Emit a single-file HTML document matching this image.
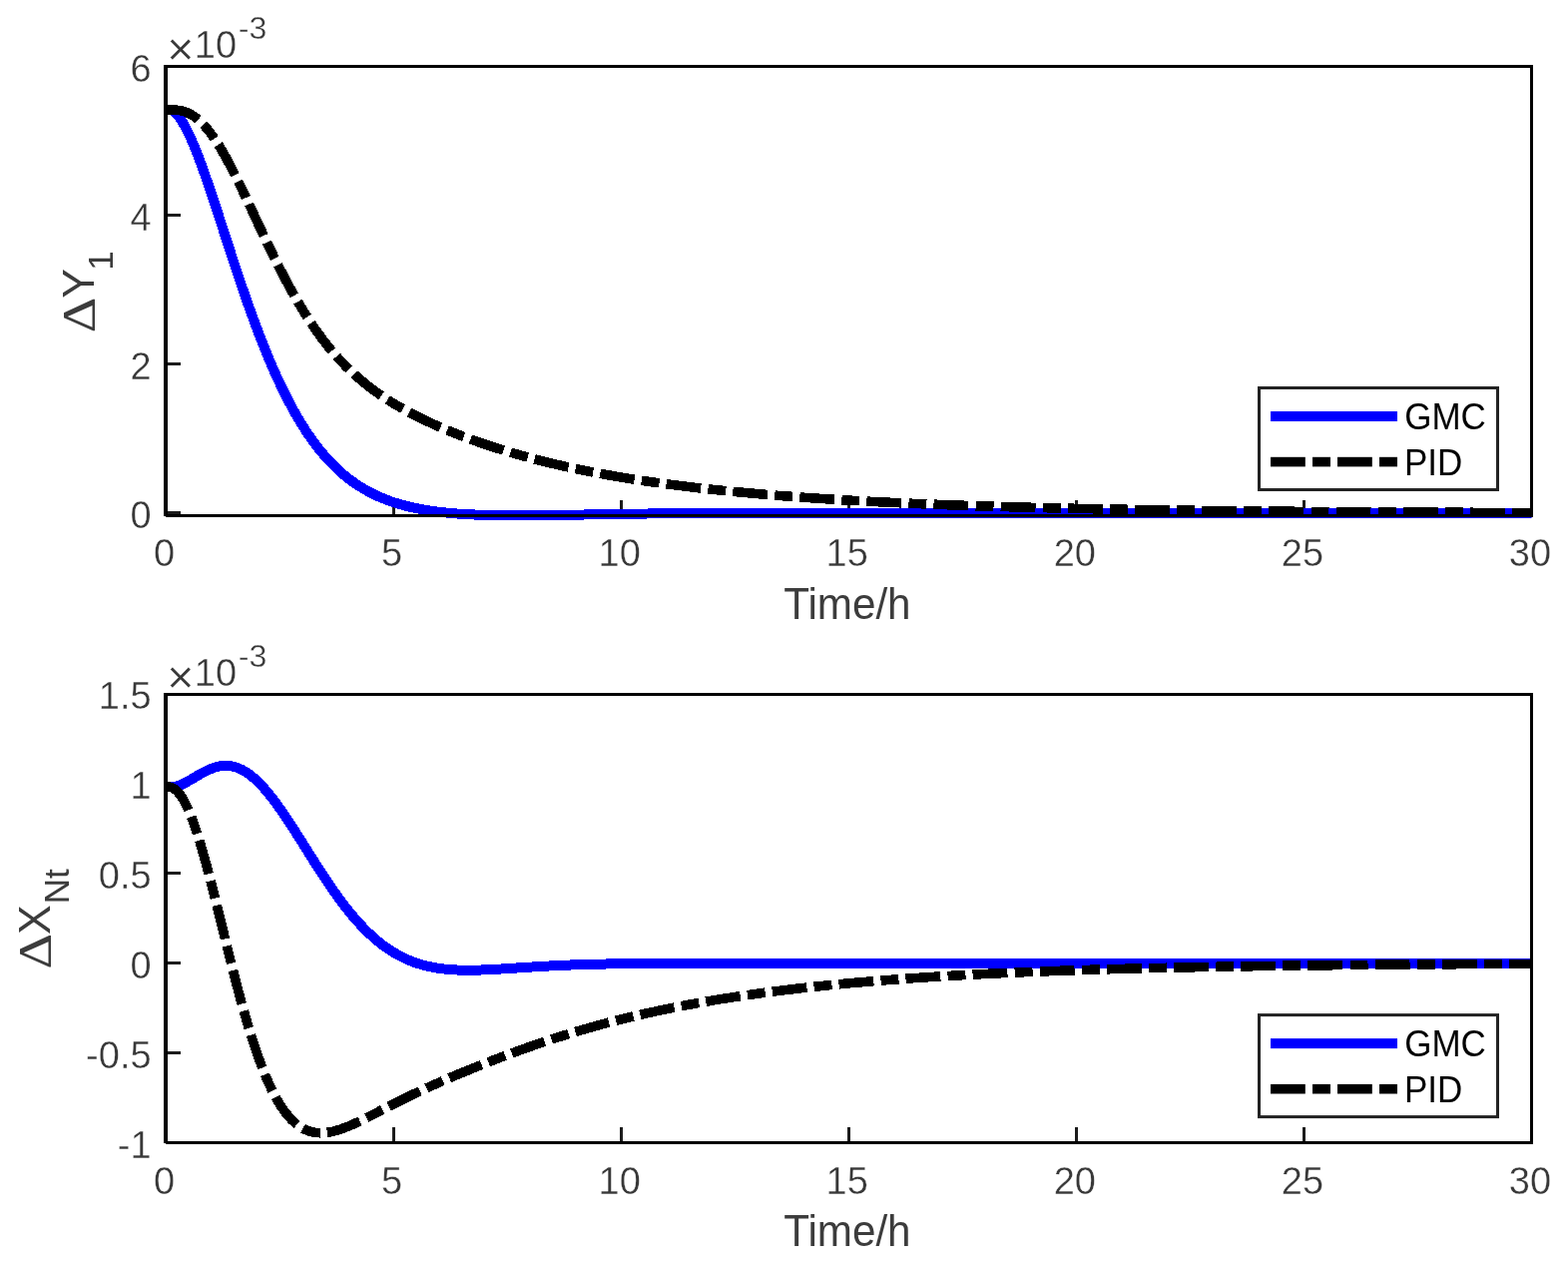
<!DOCTYPE html>
<html lang="en">
<head>
<meta charset="utf-8">
<title>GMC vs PID closed-loop response</title>
<style>
html,body{margin:0;padding:0;background:#fff;}
body{width:1571px;height:1271px;overflow:hidden;}
svg{display:block;}
text{font-family:'Liberation Sans', sans-serif;}
.t text{fill:#383838;stroke:#fff;stroke-width:0.35px;}
.a text,text.a{fill:#3c3c3c;}
text.l{fill:#000;}
</style>
</head>
<body>
<svg width="1571" height="1271" viewBox="0 0 1571 1271">
<rect width="1571" height="1271" fill="#fff"/>
<g id="axes1">
<clipPath id="clip1"><rect x="166" y="66.5" width="1368.5" height="458"/></clipPath>
<g fill="#1c1c1c">
<rect x="393" y="501" width="3" height="15"/>
<rect x="621" y="501" width="3" height="15"/>
<rect x="849" y="501" width="3" height="15"/>
<rect x="1077" y="501" width="3" height="15"/>
<rect x="1305" y="501" width="3" height="15"/>
<rect x="167" y="214" width="14" height="3"/>
<rect x="167" y="363" width="14" height="3"/>
<rect x="167" y="512" width="14" height="3"/>
</g>
<g clip-path="url(#clip1)" fill="none" stroke-width="10" stroke-linejoin="round" shape-rendering="crispEdges">
<path stroke="#0000ff" d="M166 110.07L167.5 109.72L169 109.7L170.5 109.98L172 110.57L173.5 111.43L175 112.57L176.5 113.96L178 115.59L179.5 117.46L181 119.54L182.5 121.83L184 124.31L185.5 126.98L187 129.82L188.5 132.83L190 135.99L191.5 139.29L193 142.73L194.5 146.29L196 149.97L197.5 153.76L199 157.65L200.5 161.63L202 165.7L203.5 169.85L205 174.07L206.5 178.36L208 182.7L209.5 187.09L211 191.54L212.5 196.02L214 200.54L215.5 205.08L217 209.66L218.5 214.25L220 218.86L221.5 223.48L223 228.11L224.5 232.74L226 237.37L227.5 242L229 246.61L230.5 251.22L232 255.81L233.5 260.39L235 264.95L236.5 269.48L238 273.99L239.5 278.46L241 282.91L242.5 287.33L244 291.72L245.5 296.06L247 300.37L248.5 304.64L250 308.87L251.5 313.06L253 317.2L254.5 321.3L256 325.35L257.5 329.36L259 333.31L260.5 337.22L262 341.08L263.5 344.89L265 348.64L266.5 352.35L268 356L269.5 359.6L271 363.14L272.5 366.64L274 370.08L275.5 373.46L277 376.79L278.5 380.07L280 383.29L281.5 386.46L283 389.58L284.5 392.64L286 395.65L287.5 398.6L289 401.51L290.5 404.35L292 407.15L293.5 409.89L295 412.58L296.5 415.22L298 417.81L299.5 420.35L301 422.83L302.5 425.27L304 427.66L305.5 430L307 432.29L308.5 434.53L310 436.72L311.5 438.87L313 440.97L314.5 443.02L316 445.04L317.5 447L319 448.92L320.5 450.8L322 452.64L323.5 454.43L325 456.19L326.5 457.9L328 459.57L329.5 461.2L331 462.8L332.5 464.35L334 465.87L335.5 467.36L337 468.8L338.5 470.21L340 471.59L341.5 472.93L343 474.24L344.5 475.51L346 476.76L347.5 477.97L349 479.15L350.5 480.3L352 481.42L353.5 482.51L355 483.57L356.5 484.6L358 485.61L359.5 486.59L361 487.55L362.5 488.47L364 489.38L365.5 490.26L367 491.11L368.5 491.94L370 492.75L371.5 493.54L373 494.3L374.5 495.04L376 495.76L377.5 496.47L379 497.15L380.5 497.81L382 498.45L383.5 499.08L385 499.68L386.5 500.27L388 500.84L389.5 501.4L391 501.94L392.5 502.46L394 502.97L395.5 503.46L397 503.94L398.5 504.4L400 504.85L401.5 505.28L403 505.71L404.5 506.11L406 506.51L407.5 506.89L409 507.27L410.5 507.63L412 507.97L413.5 508.31L415 508.64L416.5 508.96L418 509.26L419.5 509.56L421 509.85L422.5 510.12L424 510.39L425.5 510.65L427 510.9L428.5 511.14L430 511.38L431.5 511.6L433 511.82L434.5 512.03L436 512.23L437.5 512.43L439 512.62L440.5 512.8L442 512.98L443.5 513.15L445 513.31L446.5 513.47L448 513.62L449.5 513.76L451 513.9L452.5 514.04L454 514.17L455.5 514.29L457 514.41L458.5 514.52L460 514.63L461.5 514.74L463 514.84L464.5 514.93L466 515.02L467.5 515.11L469 515.2L470.5 515.28L472 515.35L473.5 515.42L475 515.49L476.5 515.56L478 515.62L479.5 515.68L481 515.74L482.5 515.79L484 515.84L485.5 515.89L487 515.93L488.5 515.97L490 516.01L491.5 516.04L493 516.08L494.5 516.11L496 516.14L497.5 516.16L499 516.19L500.5 516.21L502 516.23L503.5 516.25L505 516.26L506.5 516.28L508 516.29L509.5 516.3L511 516.31L512.5 516.32L514 516.32L515.5 516.33L517 516.33L518.5 516.33L520 516.33L521.5 516.33L523 516.32L524.5 516.32L526 516.31L527.5 516.31L529 516.3L530.5 516.29L532 516.28L533.5 516.27L535 516.25L536.5 516.24L538 516.23L539.5 516.21L541 516.2L542.5 516.18L544 516.16L545.5 516.14L547 516.13L548.5 516.11L550 516.09L551.5 516.07L553 516.04L554.5 516.02L556 516L557.5 515.98L559 515.95L560.5 515.93L562 515.91L563.5 515.88L565 515.86L566.5 515.83L568 515.81L569.5 515.78L571 515.76L572.5 515.73L574 515.7L575.5 515.68L577 515.65L578.5 515.62L580 515.6L581.5 515.57L583 515.54L584.5 515.52L586 515.49L587.5 515.46L589 515.44L590.5 515.41L592 515.38L593.5 515.35L595 515.33L596.5 515.3L598 515.27L599.5 515.25L601 515.22L602.5 515.2L604 515.17L605.5 515.14L607 515.12L608.5 515.09L610 515.07L611.5 515.04L613 515.02L614.5 514.99L616 514.97L617.5 514.94L619 514.92L620.5 514.89L622 514.87L623.5 514.85L625 514.82L626.5 514.8L628 514.78L629.5 514.76L631 514.73L632.5 514.71L634 514.69L635.5 514.67L637 514.65L638.5 514.63L640 514.61L641.5 514.59L643 514.57L644.5 514.55L646 514.53L647.5 514.52L649 514.5L650.5 514.48L652 514.46L653.5 514.45L655 514.43L656.5 514.41L658 514.4L659.5 514.38L661 514.37L662.5 514.35L664 514.34L665.5 514.32L667 514.31L668.5 514.3L670 514.28L671.5 514.27L673 514.26L674.5 514.25L676 514.23L677.5 514.22L679 514.21L680.5 514.2L682 514.19L683.5 514.18L685 514.17L686.5 514.16L688 514.15L689.5 514.14L691 514.13L692.5 514.13L694 514.12L695.5 514.11L697 514.1L698.5 514.09L700 514.09L701.5 514.08L703 514.07L704.5 514.07L706 514.06L707.5 514.06L709 514.05L710.5 514.05L712 514.04L713.5 514.04L715 514.03L716.5 514.03L718 514.02L719.5 514.02L721 514.02L722.5 514.01L724 514.01L725.5 514.01L727 514L728.5 514L730 514L731.5 514L733 513.99L734.5 513.99L736 513.99L737.5 513.99L739 513.99L740.5 513.98L742 513.98L743.5 513.98L745 513.98L746.5 513.98L748 513.98L749.5 513.98L751 513.98L752.5 513.98L754 513.98L755.5 513.98L757 513.98L758.5 513.98L760 513.98L761.5 513.98L763 513.98L764.5 513.98L766 513.98L767.5 513.98L769 513.98L770.5 513.98L772 513.98L773.5 513.98L775 513.98L776.5 513.98L778 513.98L779.5 513.98L781 513.98L782.5 513.98L784 513.98L785.5 513.98L787 513.99L788.5 513.99L790 513.99L791.5 513.99L793 513.99L794.5 513.99L796 513.99L797.5 513.99L799 513.99L800.5 513.99L802 513.99L803.5 514L805 514L806.5 514L808 514L809.5 514L811 514L812.5 514L814 514L815.5 514L817 514L818.5 514.01L820 514.01L821.5 514.01L823 514.01L824.5 514.01L826 514.01L827.5 514.01L829 514.01L830.5 514.01L832 514.01L833.5 514.01L835 514.01L836.5 514.02L838 514.02L839.5 514.02L841 514.02L842.5 514.02L844 514.02L845.5 514.02L847 514.02L848.5 514.02L850 514.02L851.5 514.02L853 514.02L854.5 514.02L856 514.02L857.5 514.02L859 514.02L860.5 514.02L862 514.02L863.5 514.02L865 514.02L866.5 514.02L868 514.03L869.5 514.03L871 514.03L872.5 514.03L874 514.03L875.5 514.03L877 514.03L878.5 514.03L880 514.03L881.5 514.03L883 514.03L884.5 514.03L886 514.03L887.5 514.03L889 514.03L890.5 514.03L892 514.03L893.5 514.03L895 514.03L896.5 514.03L898 514.03L899.5 514.03L901 514.03L902.5 514.03L904 514.03L905.5 514.03L907 514.03L908.5 514.03L910 514.03L911.5 514.03L913 514.03L914.5 514.03L916 514.03L917.5 514.03L919 514.02L920.5 514.02L922 514.02L923.5 514.02L925 514.02L926.5 514.02L928 514.02L929.5 514.02L931 514.02L932.5 514.02L934 514.02L935.5 514.02L937 514.02L938.5 514.02L940 514.02L941.5 514.02L943 514.02L944.5 514.02L946 514.02L947.5 514.02L949 514.02L950.5 514.02L952 514.02L953.5 514.02L955 514.02L956.5 514.02L958 514.02L959.5 514.02L961 514.02L962.5 514.02L964 514.02L965.5 514.02L967 514.02L968.5 514.02L970 514.02L971.5 514.02L973 514.02L974.5 514.02L976 514.02L977.5 514.02L979 514.02L980.5 514.02L982 514.02L983.5 514.02L985 514.02L986.5 514.02L988 514.02L989.5 514.02L991 514.02L992.5 514.02L994 514.02L995.5 514.02L997 514.02L998.5 514.02L1000 514.02L1001.5 514.02L1003 514.02L1004.5 514.02L1006 514.02L1007.5 514.02L1009 514.02L1010.5 514.02L1012 514.02L1013.5 514.02L1015 514.02L1016.5 514.02L1018 514.02L1019.5 514.02L1021 514.02L1022.5 514.02L1024 514.02L1025.5 514.02L1027 514.02L1028.5 514.02L1030 514.02L1031.5 514.02L1033 514.02L1034.5 514.02L1036 514.02L1037.5 514.02L1039 514.02L1040.5 514.02L1042 514.02L1043.5 514.02L1045 514.02L1046.5 514.02L1048 514.02L1049.5 514.02L1051 514.02L1052.5 514.02L1054 514.02L1055.5 514.02L1057 514.02L1058.5 514.02L1060 514.02L1061.5 514.02L1063 514.02L1064.5 514.02L1066 514.02L1067.5 514.02L1069 514.02L1070.5 514.02L1072 514.02L1073.5 514.02L1075 514.02L1076.5 514.02L1078 514.02L1079.5 514.02L1081 514.02L1082.5 514.02L1084 514.02L1085.5 514.02L1087 514.02L1088.5 514.02L1090 514.02L1091.5 514.02L1093 514.02L1094.5 514.02L1096 514.02L1097.5 514.02L1099 514.02L1100.5 514.02L1102 514.02L1103.5 514.02L1105 514.02L1106.5 514.02L1108 514.02L1109.5 514.02L1111 514.02L1112.5 514.02L1114 514.02L1115.5 514.02L1117 514.02L1118.5 514.02L1120 514.02L1121.5 514.02L1123 514.02L1124.5 514.02L1126 514.02L1127.5 514.02L1129 514.02L1130.5 514.02L1132 514.02L1133.5 514.02L1135 514.02L1136.5 514.02L1138 514.02L1139.5 514.02L1141 514.02L1142.5 514.02L1144 514.02L1145.5 514.02L1147 514.02L1148.5 514.02L1150 514.02L1151.5 514.02L1153 514.02L1154.5 514.02L1156 514.02L1157.5 514.02L1159 514.02L1160.5 514.02L1162 514.02L1163.5 514.02L1165 514.02L1166.5 514.02L1168 514.02L1169.5 514.02L1171 514.02L1172.5 514.02L1174 514.02L1175.5 514.02L1177 514.02L1178.5 514.02L1180 514.02L1181.5 514.02L1183 514.02L1184.5 514.02L1186 514.02L1187.5 514.02L1189 514.02L1190.5 514.02L1192 514.02L1193.5 514.02L1195 514.02L1196.5 514.02L1198 514.02L1199.5 514.02L1201 514.02L1202.5 514.02L1204 514.02L1205.5 514.02L1207 514.02L1208.5 514.02L1210 514.02L1211.5 514.02L1213 514.02L1214.5 514.02L1216 514.02L1217.5 514.02L1219 514.02L1220.5 514.02L1222 514.02L1223.5 514.02L1225 514.02L1226.5 514.02L1228 514.02L1229.5 514.02L1231 514.02L1232.5 514.02L1234 514.02L1235.5 514.02L1237 514.02L1238.5 514.02L1240 514.02L1241.5 514.02L1243 514.02L1244.5 514.02L1246 514.02L1247.5 514.02L1249 514.02L1250.5 514.02L1252 514.02L1253.5 514.02L1255 514.02L1256.5 514.02L1258 514.02L1259.5 514.02L1261 514.02L1262.5 514.02L1264 514.02L1265.5 514.02L1267 514.02L1268.5 514.02L1270 514.02L1271.5 514.02L1273 514.02L1274.5 514.02L1276 514.02L1277.5 514.02L1279 514.02L1280.5 514.02L1282 514.02L1283.5 514.02L1285 514.02L1286.5 514.02L1288 514.02L1289.5 514.02L1291 514.02L1292.5 514.02L1294 514.02L1295.5 514.02L1297 514.02L1298.5 514.02L1300 514.02L1301.5 514.02L1303 514.02L1304.5 514.02L1306 514.02L1307.5 514.02L1309 514.02L1310.5 514.02L1312 514.02L1313.5 514.02L1315 514.02L1316.5 514.02L1318 514.02L1319.5 514.02L1321 514.02L1322.5 514.02L1324 514.02L1325.5 514.02L1327 514.02L1328.5 514.02L1330 514.02L1331.5 514.02L1333 514.02L1334.5 514.02L1336 514.02L1337.5 514.02L1339 514.02L1340.5 514.02L1342 514.02L1343.5 514.02L1345 514.02L1346.5 514.02L1348 514.02L1349.5 514.02L1351 514.02L1352.5 514.02L1354 514.02L1355.5 514.02L1357 514.02L1358.5 514.02L1360 514.02L1361.5 514.02L1363 514.02L1364.5 514.02L1366 514.02L1367.5 514.02L1369 514.02L1370.5 514.02L1372 514.02L1373.5 514.02L1375 514.02L1376.5 514.02L1378 514.02L1379.5 514.02L1381 514.02L1382.5 514.02L1384 514.02L1385.5 514.02L1387 514.02L1388.5 514.02L1390 514.02L1391.5 514.02L1393 514.02L1394.5 514.02L1396 514.02L1397.5 514.02L1399 514.02L1400.5 514.02L1402 514.02L1403.5 514.02L1405 514.02L1406.5 514.02L1408 514.02L1409.5 514.02L1411 514.02L1412.5 514.02L1414 514.02L1415.5 514.02L1417 514.02L1418.5 514.02L1420 514.02L1421.5 514.02L1423 514.02L1424.5 514.02L1426 514.02L1427.5 514.02L1429 514.02L1430.5 514.02L1432 514.02L1433.5 514.02L1435 514.02L1436.5 514.02L1438 514.02L1439.5 514.02L1441 514.02L1442.5 514.02L1444 514.02L1445.5 514.02L1447 514.02L1448.5 514.02L1450 514.02L1451.5 514.02L1453 514.02L1454.5 514.02L1456 514.02L1457.5 514.02L1459 514.02L1460.5 514.02L1462 514.02L1463.5 514.02L1465 514.02L1466.5 514.02L1468 514.02L1469.5 514.02L1471 514.02L1472.5 514.02L1474 514.02L1475.5 514.02L1477 514.02L1478.5 514.02L1480 514.02L1481.5 514.02L1483 514.02L1484.5 514.02L1486 514.02L1487.5 514.02L1489 514.02L1490.5 514.02L1492 514.02L1493.5 514.02L1495 514.02L1496.5 514.02L1498 514.02L1499.5 514.02L1501 514.02L1502.5 514.02L1504 514.02L1505.5 514.02L1507 514.02L1508.5 514.02L1510 514.02L1511.5 514.02L1513 514.02L1514.5 514.02L1516 514.02L1517.5 514.02L1519 514.02L1520.5 514.02L1522 514.02L1523.5 514.02L1525 514.02L1526.5 514.02L1528 514.02L1529.5 514.02L1531 514.02L1532.5 514.02L1534 514.02L1534.5 514.02"/>
<path stroke="#000" stroke-width="9.6" stroke-dasharray="34.9 7.25 17.95 7.1" d="M166 109.86L167.5 109.89L169 109.91L170.5 109.93L172 109.96L173.5 110.01L175 110.09L176.5 110.21L178 110.37L179.5 110.58L181 110.85L182.5 111.19L184 111.59L185.5 112.07L187 112.63L188.5 113.26L190 113.98L191.5 114.79L193 115.69L194.5 116.67L196 117.75L197.5 118.91L199 120.17L200.5 121.52L202 122.96L203.5 124.49L205 126.12L206.5 127.83L208 129.62L209.5 131.51L211 133.47L212.5 135.52L214 137.65L215.5 139.85L217 142.14L218.5 144.49L220 146.91L221.5 149.4L223 151.95L224.5 154.57L226 157.24L227.5 159.97L229 162.75L230.5 165.58L232 168.46L233.5 171.38L235 174.34L236.5 177.33L238 180.36L239.5 183.42L241 186.51L242.5 189.63L244 192.76L245.5 195.92L247 199.09L248.5 202.28L250 205.48L251.5 208.68L253 211.89L254.5 215.11L256 218.33L257.5 221.54L259 224.76L260.5 227.96L262 231.16L263.5 234.35L265 237.53L266.5 240.69L268 243.84L269.5 246.97L271 250.09L272.5 253.18L274 256.25L275.5 259.3L277 262.33L278.5 265.32L280 268.3L281.5 271.24L283 274.16L284.5 277.05L286 279.9L287.5 282.73L289 285.52L290.5 288.28L292 291.01L293.5 293.7L295 296.36L296.5 298.99L298 301.58L299.5 304.13L301 306.65L302.5 309.14L304 311.59L305.5 314L307 316.37L308.5 318.72L310 321.02L311.5 323.29L313 325.52L314.5 327.72L316 329.88L317.5 332.01L319 334.1L320.5 336.16L322 338.19L323.5 340.18L325 342.13L326.5 344.05L328 345.94L329.5 347.8L331 349.63L332.5 351.42L334 353.18L335.5 354.91L337 356.62L338.5 358.29L340 359.93L341.5 361.54L343 363.13L344.5 364.69L346 366.22L347.5 367.72L349 369.2L350.5 370.65L352 372.08L353.5 373.48L355 374.86L356.5 376.21L358 377.54L359.5 378.85L361 380.14L362.5 381.4L364 382.65L365.5 383.87L367 385.07L368.5 386.26L370 387.42L371.5 388.57L373 389.7L374.5 390.81L376 391.9L377.5 392.98L379 394.04L380.5 395.08L382 396.11L383.5 397.13L385 398.13L386.5 399.11L388 400.08L389.5 401.04L391 401.98L392.5 402.91L394 403.83L395.5 404.74L397 405.63L398.5 406.52L400 407.39L401.5 408.25L403 409.1L404.5 409.94L406 410.77L407.5 411.59L409 412.4L410.5 413.2L412 413.99L413.5 414.78L415 415.55L416.5 416.32L418 417.08L419.5 417.83L421 418.57L422.5 419.3L424 420.03L425.5 420.75L427 421.46L428.5 422.17L430 422.87L431.5 423.56L433 424.24L434.5 424.92L436 425.59L437.5 426.26L439 426.92L440.5 427.58L442 428.23L443.5 428.87L445 429.51L446.5 430.14L448 430.77L449.5 431.39L451 432L452.5 432.62L454 433.22L455.5 433.82L457 434.42L458.5 435.01L460 435.6L461.5 436.18L463 436.75L464.5 437.33L466 437.89L467.5 438.46L469 439.02L470.5 439.57L472 440.12L473.5 440.67L475 441.21L476.5 441.74L478 442.28L479.5 442.81L481 443.33L482.5 443.85L484 444.37L485.5 444.88L487 445.39L488.5 445.89L490 446.39L491.5 446.89L493 447.38L494.5 447.87L496 448.36L497.5 448.84L499 449.32L500.5 449.79L502 450.26L503.5 450.73L505 451.19L506.5 451.65L508 452.1L509.5 452.56L511 453L512.5 453.45L514 453.89L515.5 454.33L517 454.76L518.5 455.19L520 455.62L521.5 456.05L523 456.47L524.5 456.88L526 457.3L527.5 457.71L529 458.12L530.5 458.52L532 458.92L533.5 459.32L535 459.71L536.5 460.11L538 460.5L539.5 460.88L541 461.26L542.5 461.64L544 462.02L545.5 462.39L547 462.76L548.5 463.13L550 463.49L551.5 463.86L553 464.21L554.5 464.57L556 464.92L557.5 465.27L559 465.62L560.5 465.97L562 466.31L563.5 466.65L565 466.98L566.5 467.32L568 467.65L569.5 467.98L571 468.3L572.5 468.62L574 468.95L575.5 469.26L577 469.58L578.5 469.89L580 470.2L581.5 470.51L583 470.82L584.5 471.12L586 471.42L587.5 471.72L589 472.02L590.5 472.31L592 472.6L593.5 472.89L595 473.18L596.5 473.46L598 473.75L599.5 474.03L601 474.3L602.5 474.58L604 474.85L605.5 475.13L607 475.4L608.5 475.66L610 475.93L611.5 476.19L613 476.45L614.5 476.71L616 476.97L617.5 477.23L619 477.48L620.5 477.73L622 477.98L623.5 478.23L625 478.48L626.5 478.72L628 478.96L629.5 479.21L631 479.44L632.5 479.68L634 479.92L635.5 480.15L637 480.38L638.5 480.61L640 480.84L641.5 481.07L643 481.29L644.5 481.52L646 481.74L647.5 481.96L649 482.18L650.5 482.39L652 482.61L653.5 482.82L655 483.04L656.5 483.25L658 483.46L659.5 483.66L661 483.87L662.5 484.07L664 484.28L665.5 484.48L667 484.68L668.5 484.88L670 485.08L671.5 485.27L673 485.47L674.5 485.66L676 485.85L677.5 486.04L679 486.23L680.5 486.42L682 486.61L683.5 486.79L685 486.98L686.5 487.16L688 487.34L689.5 487.52L691 487.7L692.5 487.88L694 488.05L695.5 488.23L697 488.4L698.5 488.57L700 488.75L701.5 488.92L703 489.08L704.5 489.25L706 489.42L707.5 489.58L709 489.75L710.5 489.91L712 490.07L713.5 490.24L715 490.4L716.5 490.55L718 490.71L719.5 490.87L721 491.02L722.5 491.18L724 491.33L725.5 491.48L727 491.63L728.5 491.79L730 491.93L731.5 492.08L733 492.23L734.5 492.38L736 492.52L737.5 492.66L739 492.81L740.5 492.95L742 493.09L743.5 493.23L745 493.37L746.5 493.51L748 493.65L749.5 493.78L751 493.92L752.5 494.05L754 494.19L755.5 494.32L757 494.45L758.5 494.58L760 494.71L761.5 494.84L763 494.97L764.5 495.1L766 495.22L767.5 495.35L769 495.47L770.5 495.6L772 495.72L773.5 495.84L775 495.96L776.5 496.09L778 496.2L779.5 496.32L781 496.44L782.5 496.56L784 496.68L785.5 496.79L787 496.91L788.5 497.02L790 497.13L791.5 497.25L793 497.36L794.5 497.47L796 497.58L797.5 497.69L799 497.8L800.5 497.91L802 498.02L803.5 498.12L805 498.23L806.5 498.33L808 498.44L809.5 498.54L811 498.64L812.5 498.75L814 498.85L815.5 498.95L817 499.05L818.5 499.15L820 499.25L821.5 499.35L823 499.45L824.5 499.54L826 499.64L827.5 499.74L829 499.83L830.5 499.93L832 500.02L833.5 500.11L835 500.2L836.5 500.3L838 500.39L839.5 500.48L841 500.57L842.5 500.66L844 500.75L845.5 500.84L847 500.92L848.5 501.01L850 501.1L851.5 501.18L853 501.27L854.5 501.35L856 501.44L857.5 501.52L859 501.61L860.5 501.69L862 501.77L863.5 501.85L865 501.93L866.5 502.01L868 502.09L869.5 502.17L871 502.25L872.5 502.33L874 502.41L875.5 502.49L877 502.56L878.5 502.64L880 502.71L881.5 502.79L883 502.86L884.5 502.94L886 503.01L887.5 503.09L889 503.16L890.5 503.23L892 503.3L893.5 503.37L895 503.44L896.5 503.52L898 503.58L899.5 503.65L901 503.72L902.5 503.79L904 503.86L905.5 503.93L907 503.99L908.5 504.06L910 504.13L911.5 504.19L913 504.26L914.5 504.32L916 504.39L917.5 504.45L919 504.52L920.5 504.58L922 504.64L923.5 504.71L925 504.77L926.5 504.83L928 504.89L929.5 504.95L931 505.01L932.5 505.07L934 505.13L935.5 505.19L937 505.25L938.5 505.31L940 505.37L941.5 505.42L943 505.48L944.5 505.54L946 505.59L947.5 505.65L949 505.71L950.5 505.76L952 505.82L953.5 505.87L955 505.93L956.5 505.98L958 506.03L959.5 506.09L961 506.14L962.5 506.19L964 506.24L965.5 506.3L967 506.35L968.5 506.4L970 506.45L971.5 506.5L973 506.55L974.5 506.6L976 506.65L977.5 506.7L979 506.75L980.5 506.8L982 506.84L983.5 506.89L985 506.94L986.5 506.99L988 507.03L989.5 507.08L991 507.13L992.5 507.17L994 507.22L995.5 507.26L997 507.31L998.5 507.35L1000 507.4L1001.5 507.44L1003 507.49L1004.5 507.53L1006 507.57L1007.5 507.62L1009 507.66L1010.5 507.7L1012 507.74L1013.5 507.79L1015 507.83L1016.5 507.87L1018 507.91L1019.5 507.95L1021 507.99L1022.5 508.03L1024 508.07L1025.5 508.11L1027 508.15L1028.5 508.19L1030 508.23L1031.5 508.27L1033 508.31L1034.5 508.35L1036 508.38L1037.5 508.42L1039 508.46L1040.5 508.5L1042 508.53L1043.5 508.57L1045 508.61L1046.5 508.64L1048 508.68L1049.5 508.71L1051 508.75L1052.5 508.79L1054 508.82L1055.5 508.86L1057 508.89L1058.5 508.92L1060 508.96L1061.5 508.99L1063 509.03L1064.5 509.06L1066 509.09L1067.5 509.13L1069 509.16L1070.5 509.19L1072 509.22L1073.5 509.26L1075 509.29L1076.5 509.32L1078 509.35L1079.5 509.38L1081 509.41L1082.5 509.45L1084 509.48L1085.5 509.51L1087 509.54L1088.5 509.57L1090 509.6L1091.5 509.63L1093 509.66L1094.5 509.69L1096 509.72L1097.5 509.74L1099 509.77L1100.5 509.8L1102 509.83L1103.5 509.86L1105 509.89L1106.5 509.91L1108 509.94L1109.5 509.97L1111 510L1112.5 510.02L1114 510.05L1115.5 510.08L1117 510.1L1118.5 510.13L1120 510.16L1121.5 510.18L1123 510.21L1124.5 510.23L1126 510.26L1127.5 510.29L1129 510.31L1130.5 510.34L1132 510.36L1133.5 510.39L1135 510.41L1136.5 510.43L1138 510.46L1139.5 510.48L1141 510.51L1142.5 510.53L1144 510.55L1145.5 510.58L1147 510.6L1148.5 510.62L1150 510.65L1151.5 510.67L1153 510.69L1154.5 510.72L1156 510.74L1157.5 510.76L1159 510.78L1160.5 510.8L1162 510.83L1163.5 510.85L1165 510.87L1166.5 510.89L1168 510.91L1169.5 510.93L1171 510.95L1172.5 510.98L1174 511L1175.5 511.02L1177 511.04L1178.5 511.06L1180 511.08L1181.5 511.1L1183 511.12L1184.5 511.14L1186 511.16L1187.5 511.18L1189 511.2L1190.5 511.22L1192 511.23L1193.5 511.25L1195 511.27L1196.5 511.29L1198 511.31L1199.5 511.33L1201 511.35L1202.5 511.36L1204 511.38L1205.5 511.4L1207 511.42L1208.5 511.44L1210 511.45L1211.5 511.47L1213 511.49L1214.5 511.51L1216 511.52L1217.5 511.54L1219 511.56L1220.5 511.57L1222 511.59L1223.5 511.61L1225 511.62L1226.5 511.64L1228 511.66L1229.5 511.67L1231 511.69L1232.5 511.71L1234 511.72L1235.5 511.74L1237 511.75L1238.5 511.77L1240 511.78L1241.5 511.8L1243 511.82L1244.5 511.83L1246 511.85L1247.5 511.86L1249 511.88L1250.5 511.89L1252 511.91L1253.5 511.92L1255 511.93L1256.5 511.95L1258 511.96L1259.5 511.98L1261 511.99L1262.5 512.01L1264 512.02L1265.5 512.03L1267 512.05L1268.5 512.06L1270 512.07L1271.5 512.09L1273 512.1L1274.5 512.11L1276 512.13L1277.5 512.14L1279 512.15L1280.5 512.17L1282 512.18L1283.5 512.19L1285 512.21L1286.5 512.22L1288 512.23L1289.5 512.24L1291 512.26L1292.5 512.27L1294 512.28L1295.5 512.29L1297 512.3L1298.5 512.32L1300 512.33L1301.5 512.34L1303 512.35L1304.5 512.36L1306 512.37L1307.5 512.39L1309 512.4L1310.5 512.41L1312 512.42L1313.5 512.43L1315 512.44L1316.5 512.45L1318 512.47L1319.5 512.48L1321 512.49L1322.5 512.5L1324 512.51L1325.5 512.52L1327 512.53L1328.5 512.54L1330 512.55L1331.5 512.56L1333 512.57L1334.5 512.58L1336 512.59L1337.5 512.6L1339 512.61L1340.5 512.62L1342 512.63L1343.5 512.64L1345 512.65L1346.5 512.66L1348 512.67L1349.5 512.68L1351 512.69L1352.5 512.7L1354 512.71L1355.5 512.72L1357 512.73L1358.5 512.74L1360 512.75L1361.5 512.75L1363 512.76L1364.5 512.77L1366 512.78L1367.5 512.79L1369 512.8L1370.5 512.81L1372 512.82L1373.5 512.83L1375 512.83L1376.5 512.84L1378 512.85L1379.5 512.86L1381 512.87L1382.5 512.88L1384 512.88L1385.5 512.89L1387 512.9L1388.5 512.91L1390 512.92L1391.5 512.92L1393 512.93L1394.5 512.94L1396 512.95L1397.5 512.96L1399 512.96L1400.5 512.97L1402 512.98L1403.5 512.99L1405 512.99L1406.5 513L1408 513.01L1409.5 513.02L1411 513.02L1412.5 513.03L1414 513.04L1415.5 513.05L1417 513.05L1418.5 513.06L1420 513.07L1421.5 513.07L1423 513.08L1424.5 513.09L1426 513.09L1427.5 513.1L1429 513.11L1430.5 513.11L1432 513.12L1433.5 513.13L1435 513.13L1436.5 513.14L1438 513.15L1439.5 513.15L1441 513.16L1442.5 513.17L1444 513.17L1445.5 513.18L1447 513.19L1448.5 513.19L1450 513.2L1451.5 513.2L1453 513.21L1454.5 513.22L1456 513.22L1457.5 513.23L1459 513.23L1460.5 513.24L1462 513.25L1463.5 513.25L1465 513.26L1466.5 513.26L1468 513.27L1469.5 513.27L1471 513.28L1472.5 513.29L1474 513.29L1475.5 513.3L1477 513.3L1478.5 513.31L1480 513.31L1481.5 513.32L1483 513.32L1484.5 513.33L1486 513.33L1487.5 513.34L1489 513.35L1490.5 513.35L1492 513.36L1493.5 513.36L1495 513.37L1496.5 513.37L1498 513.38L1499.5 513.38L1501 513.39L1502.5 513.39L1504 513.4L1505.5 513.4L1507 513.4L1508.5 513.41L1510 513.41L1511.5 513.42L1513 513.42L1514.5 513.43L1516 513.43L1517.5 513.44L1519 513.44L1520.5 513.45L1522 513.45L1523.5 513.46L1525 513.46L1526.5 513.46L1528 513.47L1529.5 513.47L1531 513.48L1532.5 513.48L1534 513.49L1534.5 513.49"/>
</g>
<g fill="#000">
<rect x="164" y="65" width="4" height="452"/>
<rect x="1533" y="65" width="3" height="453"/>
<rect x="164" y="65" width="1372" height="3"/>
<rect x="166" y="515" width="1370" height="3"/>
</g>
<g class="t" font-size="38">
<g text-anchor="middle">
<text x="164.5" y="566.9">0</text>
<text x="392.58" y="566.9">5</text>
<text x="620.67" y="566.9">10</text>
<text x="848.75" y="566.9">15</text>
<text x="1076.83" y="566.9">20</text>
<text x="1304.92" y="566.9">25</text>
<text x="1533" y="566.9">30</text>
</g>
<g text-anchor="end">
<text x="151.6" y="81.8">6</text>
<text x="151.6" y="230.8">4</text>
<text x="151.6" y="379.8">2</text>
<text x="151.6" y="528.8">0</text>
</g>
<text x="167.2" y="64.6" font-size="46.5">×</text>
<text x="194.8" y="58.2">10</text>
<text x="238.8" y="39.4" font-size="32.2">-3</text>
</g>
<text class="a" x="848.9" y="620" font-size="43.6" text-anchor="middle" textLength="127.4" lengthAdjust="spacingAndGlyphs">Time/h</text>
<g class="a" transform="translate(94.6 331.8) rotate(-90)">
<text transform="scale(1.17 1)" x="-1.2" y="0" font-size="47.2" style="font-family:'Liberation Serif', 'DejaVu Serif', serif">Δ</text>
<text x="33.0" y="-0.9" font-size="44.4">Y</text>
<text x="61" y="18.3" font-size="35">1</text>
</g>
<rect x="1261.5" y="388.5" width="239" height="102" fill="#fff" stroke="#222" stroke-width="3"/>
<rect x="1273" y="412" width="127" height="10" fill="#0000ff"/>
<rect x="1273" y="457.8" width="34.8" height="9.6" fill="#000"/>
<rect x="1315" y="457.8" width="18" height="9.6" fill="#000"/>
<rect x="1340" y="457.8" width="34.8" height="9.6" fill="#000"/>
<rect x="1382" y="457.8" width="18" height="9.6" fill="#000"/>
<text class="l" x="1407.2" y="430" font-size="36.2" textLength="81.6" lengthAdjust="spacingAndGlyphs">GMC</text>
<text class="l" x="1407.0" y="476" font-size="36.2" textLength="58.3" lengthAdjust="spacingAndGlyphs">PID</text>
</g>
<g id="axes2">
<clipPath id="clip2"><rect x="166" y="695.5" width="1368.5" height="457"/></clipPath>
<g fill="#1c1c1c">
<rect x="393" y="1129" width="3" height="15"/>
<rect x="621" y="1129" width="3" height="15"/>
<rect x="849" y="1129" width="3" height="15"/>
<rect x="1077" y="1129" width="3" height="15"/>
<rect x="1305" y="1129" width="3" height="15"/>
<rect x="167" y="783" width="14" height="3"/>
<rect x="167" y="873" width="14" height="3"/>
<rect x="167" y="963" width="14" height="3"/>
<rect x="167" y="1053" width="14" height="3"/>
</g>
<g clip-path="url(#clip2)" fill="none" stroke-width="10" stroke-linejoin="round" shape-rendering="crispEdges">
<path stroke="#0000ff" d="M166 787.78L167.5 788.15L169 788.38L170.5 788.47L172 788.44L173.5 788.3L175 788.04L176.5 787.69L178 787.25L179.5 786.74L181 786.15L182.5 785.49L184 784.79L185.5 784.03L187 783.23L188.5 782.41L190 781.55L191.5 780.68L193 779.79L194.5 778.89L196 778L197.5 777.11L199 776.23L200.5 775.36L202 774.52L203.5 773.7L205 772.91L206.5 772.15L208 771.44L209.5 770.76L211 770.13L212.5 769.54L214 769.01L215.5 768.53L217 768.11L218.5 767.74L220 767.44L221.5 767.2L223 767.02L224.5 766.91L226 766.87L227.5 766.89L229 766.99L230.5 767.15L232 767.39L233.5 767.7L235 768.07L236.5 768.52L238 769.05L239.5 769.64L241 770.3L242.5 771.04L244 771.84L245.5 772.72L247 773.66L248.5 774.67L250 775.75L251.5 776.9L253 778.11L254.5 779.38L256 780.71L257.5 782.11L259 783.56L260.5 785.08L262 786.64L263.5 788.27L265 789.94L266.5 791.67L268 793.45L269.5 795.27L271 797.14L272.5 799.05L274 801L275.5 803L277 805.03L278.5 807.1L280 809.2L281.5 811.33L283 813.5L284.5 815.69L286 817.91L287.5 820.15L289 822.41L290.5 824.7L292 827L293.5 829.32L295 831.65L296.5 834L298 836.35L299.5 838.72L301 841.09L302.5 843.47L304 845.85L305.5 848.24L307 850.62L308.5 853L310 855.38L311.5 857.76L313 860.13L314.5 862.49L316 864.85L317.5 867.19L319 869.52L320.5 871.84L322 874.14L323.5 876.43L325 878.71L326.5 880.96L328 883.2L329.5 885.41L331 887.61L332.5 889.78L334 891.93L335.5 894.06L337 896.16L338.5 898.24L340 900.29L341.5 902.31L343 904.31L344.5 906.28L346 908.22L347.5 910.13L349 912.01L350.5 913.86L352 915.69L353.5 917.48L355 919.24L356.5 920.96L358 922.66L359.5 924.32L361 925.95L362.5 927.55L364 929.12L365.5 930.65L367 932.15L368.5 933.62L370 935.06L371.5 936.46L373 937.83L374.5 939.17L376 940.47L377.5 941.74L379 942.98L380.5 944.19L382 945.36L383.5 946.51L385 947.62L386.5 948.7L388 949.75L389.5 950.77L391 951.76L392.5 952.72L394 953.65L395.5 954.54L397 955.41L398.5 956.26L400 957.07L401.5 957.85L403 958.61L404.5 959.34L406 960.05L407.5 960.72L409 961.38L410.5 962L412 962.61L413.5 963.18L415 963.74L416.5 964.27L418 964.77L419.5 965.26L421 965.72L422.5 966.16L424 966.58L425.5 966.98L427 967.36L428.5 967.72L430 968.06L431.5 968.38L433 968.69L434.5 968.97L436 969.24L437.5 969.49L439 969.73L440.5 969.95L442 970.16L443.5 970.35L445 970.52L446.5 970.69L448 970.83L449.5 970.97L451 971.09L452.5 971.2L454 971.3L455.5 971.39L457 971.47L458.5 971.54L460 971.59L461.5 971.64L463 971.68L464.5 971.71L466 971.73L467.5 971.74L469 971.74L470.5 971.74L472 971.73L473.5 971.71L475 971.69L476.5 971.66L478 971.63L479.5 971.59L481 971.54L482.5 971.49L484 971.43L485.5 971.37L487 971.31L488.5 971.24L490 971.17L491.5 971.1L493 971.02L494.5 970.94L496 970.86L497.5 970.77L499 970.69L500.5 970.6L502 970.51L503.5 970.41L505 970.32L506.5 970.22L508 970.13L509.5 970.03L511 969.93L512.5 969.83L514 969.74L515.5 969.64L517 969.54L518.5 969.44L520 969.34L521.5 969.24L523 969.14L524.5 969.04L526 968.94L527.5 968.84L529 968.75L530.5 968.65L532 968.56L533.5 968.46L535 968.37L536.5 968.28L538 968.18L539.5 968.09L541 968L542.5 967.92L544 967.83L545.5 967.74L547 967.66L548.5 967.58L550 967.5L551.5 967.42L553 967.34L554.5 967.26L556 967.19L557.5 967.11L559 967.04L560.5 966.97L562 966.9L563.5 966.83L565 966.77L566.5 966.7L568 966.64L569.5 966.58L571 966.52L572.5 966.46L574 966.4L575.5 966.35L577 966.29L578.5 966.24L580 966.19L581.5 966.14L583 966.09L584.5 966.05L586 966L587.5 965.96L589 965.92L590.5 965.88L592 965.84L593.5 965.8L595 965.76L596.5 965.73L598 965.69L599.5 965.66L601 965.63L602.5 965.59L604 965.57L605.5 965.54L607 965.51L608.5 965.48L610 965.46L611.5 965.43L613 965.41L614.5 965.39L616 965.37L617.5 965.35L619 965.33L620.5 965.31L622 965.29L623.5 965.27L625 965.26L626.5 965.24L628 965.23L629.5 965.21L631 965.2L632.5 965.19L634 965.17L635.5 965.16L637 965.15L638.5 965.14L640 965.13L641.5 965.12L643 965.11L644.5 965.11L646 965.1L647.5 965.09L649 965.09L650.5 965.08L652 965.07L653.5 965.07L655 965.06L656.5 965.06L658 965.05L659.5 965.05L661 965.04L662.5 965.04L664 965.04L665.5 965.03L667 965.03L668.5 965.03L670 965.03L671.5 965.02L673 965.02L674.5 965.02L676 965.02L677.5 965.02L679 965.02L680.5 965.01L682 965.01L683.5 965.01L685 965.01L686.5 965.01L688 965.01L689.5 965.01L691 965.01L692.5 965.01L694 965.01L695.5 965.01L697 965.01L698.5 965.01L700 965.01L701.5 965.01L703 965.01L704.5 965.01L706 965.01L707.5 965L709 965L710.5 965L712 965L713.5 965L715 965L716.5 965L718 965L719.5 965L721 965L722.5 965L724 965L725.5 965L727 965L728.5 965L730 965L731.5 965L733 965L734.5 965L736 965L737.5 965L739 965L740.5 965L742 965L743.5 965L745 965L746.5 965L748 965L749.5 965L751 964.99L752.5 964.99L754 964.99L755.5 964.99L757 964.99L758.5 964.99L760 964.99L761.5 964.99L763 964.99L764.5 964.99L766 964.99L767.5 964.99L769 964.99L770.5 964.98L772 964.98L773.5 964.98L775 964.98L776.5 964.98L778 964.98L779.5 964.98L781 964.98L782.5 964.98L784 964.98L785.5 964.98L787 964.97L788.5 964.97L790 964.97L791.5 964.97L793 964.97L794.5 964.97L796 964.97L797.5 964.97L799 964.97L800.5 964.97L802 964.97L803.5 964.96L805 964.96L806.5 964.96L808 964.96L809.5 964.96L811 964.96L812.5 964.96L814 964.96L815.5 964.96L817 964.96L818.5 964.96L820 964.95L821.5 964.95L823 964.95L824.5 964.95L826 964.95L827.5 964.95L829 964.95L830.5 964.95L832 964.95L833.5 964.95L835 964.95L836.5 964.95L838 964.95L839.5 964.95L841 964.95L842.5 964.94L844 964.94L845.5 964.94L847 964.94L848.5 964.94L850 964.94L851.5 964.94L853 964.94L854.5 964.94L856 964.94L857.5 964.94L859 964.94L860.5 964.94L862 964.94L863.5 964.94L865 964.94L866.5 964.94L868 964.94L869.5 964.94L871 964.94L872.5 964.94L874 964.94L875.5 964.94L877 964.94L878.5 964.94L880 964.94L881.5 964.94L883 964.94L884.5 964.94L886 964.94L887.5 964.94L889 964.94L890.5 964.94L892 964.93L893.5 964.93L895 964.93L896.5 964.93L898 964.93L899.5 964.93L901 964.93L902.5 964.93L904 964.93L905.5 964.93L907 964.93L908.5 964.93L910 964.94L911.5 964.94L913 964.94L914.5 964.94L916 964.94L917.5 964.94L919 964.94L920.5 964.94L922 964.94L923.5 964.94L925 964.94L926.5 964.94L928 964.94L929.5 964.94L931 964.94L932.5 964.94L934 964.94L935.5 964.94L937 964.94L938.5 964.94L940 964.94L941.5 964.94L943 964.94L944.5 964.94L946 964.94L947.5 964.94L949 964.94L950.5 964.94L952 964.94L953.5 964.94L955 964.94L956.5 964.94L958 964.94L959.5 964.94L961 964.94L962.5 964.94L964 964.94L965.5 964.94L967 964.94L968.5 964.94L970 964.94L971.5 964.94L973 964.94L974.5 964.94L976 964.94L977.5 964.94L979 964.94L980.5 964.94L982 964.94L983.5 964.94L985 964.94L986.5 964.94L988 964.94L989.5 964.94L991 964.94L992.5 964.94L994 964.94L995.5 964.94L997 964.94L998.5 964.94L1000 964.94L1001.5 964.94L1003 964.94L1004.5 964.94L1006 964.94L1007.5 964.94L1009 964.94L1010.5 964.94L1012 964.94L1013.5 964.94L1015 964.94L1016.5 964.94L1018 964.94L1019.5 964.94L1021 964.94L1022.5 964.95L1024 964.95L1025.5 964.95L1027 964.95L1028.5 964.95L1030 964.95L1031.5 964.95L1033 964.95L1034.5 964.95L1036 964.95L1037.5 964.95L1039 964.95L1040.5 964.95L1042 964.95L1043.5 964.95L1045 964.95L1046.5 964.95L1048 964.95L1049.5 964.95L1051 964.95L1052.5 964.95L1054 964.95L1055.5 964.95L1057 964.95L1058.5 964.95L1060 964.95L1061.5 964.95L1063 964.95L1064.5 964.95L1066 964.95L1067.5 964.95L1069 964.95L1070.5 964.95L1072 964.95L1073.5 964.95L1075 964.95L1076.5 964.95L1078 964.95L1079.5 964.95L1081 964.95L1082.5 964.95L1084 964.95L1085.5 964.95L1087 964.95L1088.5 964.95L1090 964.95L1091.5 964.95L1093 964.95L1094.5 964.95L1096 964.95L1097.5 964.95L1099 964.95L1100.5 964.95L1102 964.95L1103.5 964.95L1105 964.95L1106.5 964.95L1108 964.95L1109.5 964.95L1111 964.95L1112.5 964.95L1114 964.95L1115.5 964.95L1117 964.95L1118.5 964.95L1120 964.95L1121.5 964.95L1123 964.95L1124.5 964.95L1126 964.95L1127.5 964.95L1129 964.95L1130.5 964.95L1132 964.95L1133.5 964.95L1135 964.95L1136.5 964.95L1138 964.95L1139.5 964.95L1141 964.95L1142.5 964.95L1144 964.95L1145.5 964.95L1147 964.95L1148.5 964.95L1150 964.95L1151.5 964.95L1153 964.95L1154.5 964.95L1156 964.95L1157.5 964.95L1159 964.95L1160.5 964.95L1162 964.95L1163.5 964.95L1165 964.95L1166.5 964.95L1168 964.95L1169.5 964.95L1171 964.95L1172.5 964.95L1174 964.95L1175.5 964.95L1177 964.95L1178.5 964.95L1180 964.95L1181.5 964.95L1183 964.95L1184.5 964.95L1186 964.95L1187.5 964.95L1189 964.95L1190.5 964.95L1192 964.95L1193.5 964.95L1195 964.95L1196.5 964.95L1198 964.95L1199.5 964.95L1201 964.95L1202.5 964.95L1204 964.95L1205.5 964.95L1207 964.95L1208.5 964.95L1210 964.95L1211.5 964.95L1213 964.95L1214.5 964.95L1216 964.95L1217.5 964.95L1219 964.95L1220.5 964.95L1222 964.95L1223.5 964.95L1225 964.95L1226.5 964.95L1228 964.95L1229.5 964.95L1231 964.95L1232.5 964.95L1234 964.95L1235.5 964.95L1237 964.95L1238.5 964.95L1240 964.95L1241.5 964.95L1243 964.95L1244.5 964.95L1246 964.95L1247.5 964.95L1249 964.95L1250.5 964.95L1252 964.95L1253.5 964.95L1255 964.95L1256.5 964.95L1258 964.95L1259.5 964.95L1261 964.95L1262.5 964.95L1264 964.95L1265.5 964.95L1267 964.95L1268.5 964.95L1270 964.95L1271.5 964.95L1273 964.95L1274.5 964.95L1276 964.95L1277.5 964.95L1279 964.95L1280.5 964.95L1282 964.95L1283.5 964.95L1285 964.95L1286.5 964.95L1288 964.95L1289.5 964.95L1291 964.95L1292.5 964.95L1294 964.95L1295.5 964.95L1297 964.95L1298.5 964.95L1300 964.95L1301.5 964.95L1303 964.95L1304.5 964.95L1306 964.95L1307.5 964.95L1309 964.95L1310.5 964.95L1312 964.95L1313.5 964.95L1315 964.95L1316.5 964.95L1318 964.95L1319.5 964.95L1321 964.95L1322.5 964.95L1324 964.95L1325.5 964.95L1327 964.95L1328.5 964.95L1330 964.95L1331.5 964.95L1333 964.95L1334.5 964.95L1336 964.95L1337.5 964.95L1339 964.95L1340.5 964.95L1342 964.95L1343.5 964.95L1345 964.95L1346.5 964.95L1348 964.95L1349.5 964.95L1351 964.95L1352.5 964.95L1354 964.95L1355.5 964.95L1357 964.95L1358.5 964.95L1360 964.95L1361.5 964.95L1363 964.95L1364.5 964.95L1366 964.95L1367.5 964.95L1369 964.95L1370.5 964.95L1372 964.95L1373.5 964.95L1375 964.95L1376.5 964.95L1378 964.95L1379.5 964.95L1381 964.95L1382.5 964.95L1384 964.95L1385.5 964.95L1387 964.95L1388.5 964.95L1390 964.95L1391.5 964.95L1393 964.95L1394.5 964.95L1396 964.95L1397.5 964.95L1399 964.95L1400.5 964.95L1402 964.95L1403.5 964.95L1405 964.95L1406.5 964.95L1408 964.95L1409.5 964.95L1411 964.95L1412.5 964.95L1414 964.95L1415.5 964.95L1417 964.95L1418.5 964.95L1420 964.95L1421.5 964.95L1423 964.95L1424.5 964.95L1426 964.95L1427.5 964.95L1429 964.95L1430.5 964.95L1432 964.95L1433.5 964.95L1435 964.95L1436.5 964.95L1438 964.95L1439.5 964.95L1441 964.95L1442.5 964.95L1444 964.95L1445.5 964.95L1447 964.95L1448.5 964.95L1450 964.95L1451.5 964.95L1453 964.95L1454.5 964.95L1456 964.95L1457.5 964.95L1459 964.95L1460.5 964.95L1462 964.95L1463.5 964.95L1465 964.95L1466.5 964.95L1468 964.95L1469.5 964.95L1471 964.95L1472.5 964.95L1474 964.95L1475.5 964.95L1477 964.95L1478.5 964.95L1480 964.95L1481.5 964.95L1483 964.95L1484.5 964.95L1486 964.95L1487.5 964.95L1489 964.95L1490.5 964.95L1492 964.95L1493.5 964.95L1495 964.95L1496.5 964.95L1498 964.95L1499.5 964.95L1501 964.95L1502.5 964.95L1504 964.95L1505.5 964.95L1507 964.95L1508.5 964.95L1510 964.95L1511.5 964.95L1513 964.95L1514.5 964.95L1516 964.95L1517.5 964.95L1519 964.95L1520.5 964.95L1522 964.95L1523.5 964.95L1525 964.95L1526.5 964.95L1528 964.95L1529.5 964.95L1531 964.95L1532.5 964.95L1534 964.95L1534.5 964.95"/>
<path stroke="#000" stroke-width="9.6" stroke-dasharray="34.9 7.25 17.95 7.1" d="M166 788.36L167.5 788.1L169 788.06L170.5 788.26L172 788.71L173.5 789.4L175 790.36L176.5 791.57L178 793.05L179.5 794.79L181 796.78L182.5 799.04L184 801.56L185.5 804.33L187 807.34L188.5 810.59L190 814.08L191.5 817.79L193 821.72L194.5 825.85L196 830.19L197.5 834.71L199 839.42L200.5 844.29L202 849.32L203.5 854.5L205 859.81L206.5 865.24L208 870.8L209.5 876.45L211 882.19L212.5 888.02L214 893.91L215.5 899.87L217 905.87L218.5 911.9L220 917.97L221.5 924.05L223 930.15L224.5 936.24L226 942.32L227.5 948.38L229 954.41L230.5 960.41L232 966.36L233.5 972.26L235 978.11L236.5 983.89L238 989.59L239.5 995.23L241 1000.77L242.5 1006.23L244 1011.6L245.5 1016.87L247 1022.04L248.5 1027.1L250 1032.06L251.5 1036.9L253 1041.62L254.5 1046.23L256 1050.72L257.5 1055.09L259 1059.33L260.5 1063.45L262 1067.45L263.5 1071.31L265 1075.05L266.5 1078.66L268 1082.15L269.5 1085.51L271 1088.74L272.5 1091.84L274 1094.82L275.5 1097.67L277 1100.4L278.5 1103.01L280 1105.49L281.5 1107.86L283 1110.11L284.5 1112.24L286 1114.26L287.5 1116.17L289 1117.97L290.5 1119.66L292 1121.24L293.5 1122.73L295 1124.11L296.5 1125.39L298 1126.58L299.5 1127.68L301 1128.68L302.5 1129.6L304 1130.43L305.5 1131.18L307 1131.85L308.5 1132.44L310 1132.96L311.5 1133.41L313 1133.78L314.5 1134.09L316 1134.34L317.5 1134.52L319 1134.65L320.5 1134.71L322 1134.73L323.5 1134.69L325 1134.6L326.5 1134.46L328 1134.28L329.5 1134.06L331 1133.79L332.5 1133.49L334 1133.15L335.5 1132.77L337 1132.36L338.5 1131.92L340 1131.45L341.5 1130.96L343 1130.44L344.5 1129.89L346 1129.32L347.5 1128.73L349 1128.13L350.5 1127.5L352 1126.86L353.5 1126.2L355 1125.52L356.5 1124.84L358 1124.14L359.5 1123.43L361 1122.71L362.5 1121.99L364 1121.25L365.5 1120.51L367 1119.76L368.5 1119.01L370 1118.25L371.5 1117.49L373 1116.72L374.5 1115.96L376 1115.19L377.5 1114.41L379 1113.64L380.5 1112.87L382 1112.1L383.5 1111.32L385 1110.55L386.5 1109.78L388 1109.01L389.5 1108.25L391 1107.48L392.5 1106.72L394 1105.96L395.5 1105.2L397 1104.44L398.5 1103.69L400 1102.94L401.5 1102.19L403 1101.45L404.5 1100.71L406 1099.97L407.5 1099.24L409 1098.51L410.5 1097.79L412 1097.06L413.5 1096.35L415 1095.63L416.5 1094.92L418 1094.21L419.5 1093.51L421 1092.81L422.5 1092.11L424 1091.42L425.5 1090.72L427 1090.04L428.5 1089.35L430 1088.67L431.5 1088L433 1087.32L434.5 1086.65L436 1085.98L437.5 1085.32L439 1084.66L440.5 1084L442 1083.34L443.5 1082.69L445 1082.04L446.5 1081.39L448 1080.74L449.5 1080.1L451 1079.46L452.5 1078.82L454 1078.19L455.5 1077.55L457 1076.92L458.5 1076.29L460 1075.67L461.5 1075.04L463 1074.42L464.5 1073.8L466 1073.18L467.5 1072.57L469 1071.95L470.5 1071.34L472 1070.73L473.5 1070.13L475 1069.52L476.5 1068.92L478 1068.31L479.5 1067.72L481 1067.12L482.5 1066.52L484 1065.93L485.5 1065.34L487 1064.75L488.5 1064.16L490 1063.57L491.5 1062.99L493 1062.4L494.5 1061.82L496 1061.25L497.5 1060.67L499 1060.1L500.5 1059.52L502 1058.95L503.5 1058.38L505 1057.82L506.5 1057.25L508 1056.69L509.5 1056.13L511 1055.57L512.5 1055.02L514 1054.46L515.5 1053.91L517 1053.36L518.5 1052.81L520 1052.27L521.5 1051.73L523 1051.18L524.5 1050.65L526 1050.11L527.5 1049.58L529 1049.04L530.5 1048.52L532 1047.99L533.5 1047.46L535 1046.94L536.5 1046.42L538 1045.9L539.5 1045.39L541 1044.88L542.5 1044.37L544 1043.86L545.5 1043.35L547 1042.85L548.5 1042.35L550 1041.85L551.5 1041.36L553 1040.87L554.5 1040.38L556 1039.89L557.5 1039.41L559 1038.92L560.5 1038.44L562 1037.97L563.5 1037.49L565 1037.02L566.5 1036.55L568 1036.08L569.5 1035.62L571 1035.16L572.5 1034.7L574 1034.24L575.5 1033.79L577 1033.34L578.5 1032.89L580 1032.44L581.5 1032L583 1031.56L584.5 1031.12L586 1030.69L587.5 1030.25L589 1029.82L590.5 1029.4L592 1028.97L593.5 1028.55L595 1028.13L596.5 1027.71L598 1027.3L599.5 1026.88L601 1026.47L602.5 1026.07L604 1025.66L605.5 1025.26L607 1024.86L608.5 1024.46L610 1024.07L611.5 1023.68L613 1023.29L614.5 1022.9L616 1022.51L617.5 1022.13L619 1021.75L620.5 1021.37L622 1021L623.5 1020.63L625 1020.26L626.5 1019.89L628 1019.52L629.5 1019.16L631 1018.8L632.5 1018.44L634 1018.08L635.5 1017.73L637 1017.37L638.5 1017.02L640 1016.68L641.5 1016.33L643 1015.99L644.5 1015.65L646 1015.31L647.5 1014.97L649 1014.64L650.5 1014.31L652 1013.98L653.5 1013.65L655 1013.32L656.5 1013L658 1012.68L659.5 1012.36L661 1012.04L662.5 1011.72L664 1011.41L665.5 1011.1L667 1010.79L668.5 1010.48L670 1010.18L671.5 1009.87L673 1009.57L674.5 1009.27L676 1008.98L677.5 1008.68L679 1008.39L680.5 1008.09L682 1007.8L683.5 1007.52L685 1007.23L686.5 1006.95L688 1006.66L689.5 1006.38L691 1006.1L692.5 1005.83L694 1005.55L695.5 1005.28L697 1005.01L698.5 1004.74L700 1004.47L701.5 1004.2L703 1003.94L704.5 1003.68L706 1003.41L707.5 1003.15L709 1002.9L710.5 1002.64L712 1002.39L713.5 1002.13L715 1001.88L716.5 1001.63L718 1001.38L719.5 1001.14L721 1000.89L722.5 1000.65L724 1000.41L725.5 1000.17L727 999.93L728.5 999.69L730 999.46L731.5 999.23L733 998.99L734.5 998.76L736 998.53L737.5 998.31L739 998.08L740.5 997.85L742 997.63L743.5 997.41L745 997.19L746.5 996.97L748 996.75L749.5 996.54L751 996.32L752.5 996.11L754 995.9L755.5 995.69L757 995.48L758.5 995.27L760 995.07L761.5 994.86L763 994.66L764.5 994.45L766 994.25L767.5 994.05L769 993.86L770.5 993.66L772 993.46L773.5 993.27L775 993.08L776.5 992.89L778 992.69L779.5 992.51L781 992.32L782.5 992.13L784 991.95L785.5 991.76L787 991.58L788.5 991.4L790 991.22L791.5 991.04L793 990.86L794.5 990.68L796 990.51L797.5 990.33L799 990.16L800.5 989.99L802 989.81L803.5 989.64L805 989.47L806.5 989.31L808 989.14L809.5 988.97L811 988.81L812.5 988.65L814 988.48L815.5 988.32L817 988.16L818.5 988L820 987.85L821.5 987.69L823 987.53L824.5 987.38L826 987.22L827.5 987.07L829 986.92L830.5 986.77L832 986.62L833.5 986.47L835 986.32L836.5 986.18L838 986.03L839.5 985.88L841 985.74L842.5 985.6L844 985.46L845.5 985.31L847 985.17L848.5 985.04L850 984.9L851.5 984.76L853 984.62L854.5 984.49L856 984.35L857.5 984.22L859 984.09L860.5 983.95L862 983.82L863.5 983.69L865 983.56L866.5 983.44L868 983.31L869.5 983.18L871 983.06L872.5 982.93L874 982.81L875.5 982.68L877 982.56L878.5 982.44L880 982.32L881.5 982.2L883 982.08L884.5 981.96L886 981.84L887.5 981.73L889 981.61L890.5 981.49L892 981.38L893.5 981.27L895 981.15L896.5 981.04L898 980.93L899.5 980.82L901 980.71L902.5 980.6L904 980.49L905.5 980.38L907 980.27L908.5 980.17L910 980.06L911.5 979.96L913 979.85L914.5 979.75L916 979.65L917.5 979.54L919 979.44L920.5 979.34L922 979.24L923.5 979.14L925 979.04L926.5 978.94L928 978.85L929.5 978.75L931 978.65L932.5 978.56L934 978.46L935.5 978.37L937 978.27L938.5 978.18L940 978.09L941.5 978L943 977.91L944.5 977.82L946 977.73L947.5 977.64L949 977.55L950.5 977.46L952 977.37L953.5 977.28L955 977.2L956.5 977.11L958 977.03L959.5 976.94L961 976.86L962.5 976.77L964 976.69L965.5 976.61L967 976.53L968.5 976.44L970 976.36L971.5 976.28L973 976.2L974.5 976.12L976 976.05L977.5 975.97L979 975.89L980.5 975.81L982 975.74L983.5 975.66L985 975.58L986.5 975.51L988 975.43L989.5 975.36L991 975.29L992.5 975.21L994 975.14L995.5 975.07L997 975L998.5 974.93L1000 974.86L1001.5 974.79L1003 974.72L1004.5 974.65L1006 974.58L1007.5 974.51L1009 974.44L1010.5 974.37L1012 974.31L1013.5 974.24L1015 974.17L1016.5 974.11L1018 974.04L1019.5 973.98L1021 973.91L1022.5 973.85L1024 973.79L1025.5 973.72L1027 973.66L1028.5 973.6L1030 973.54L1031.5 973.48L1033 973.41L1034.5 973.35L1036 973.29L1037.5 973.23L1039 973.17L1040.5 973.12L1042 973.06L1043.5 973L1045 972.94L1046.5 972.88L1048 972.83L1049.5 972.77L1051 972.71L1052.5 972.66L1054 972.6L1055.5 972.55L1057 972.49L1058.5 972.44L1060 972.38L1061.5 972.33L1063 972.28L1064.5 972.22L1066 972.17L1067.5 972.12L1069 972.07L1070.5 972.02L1072 971.96L1073.5 971.91L1075 971.86L1076.5 971.81L1078 971.76L1079.5 971.71L1081 971.66L1082.5 971.61L1084 971.57L1085.5 971.52L1087 971.47L1088.5 971.42L1090 971.38L1091.5 971.33L1093 971.28L1094.5 971.24L1096 971.19L1097.5 971.14L1099 971.1L1100.5 971.05L1102 971.01L1103.5 970.96L1105 970.92L1106.5 970.88L1108 970.83L1109.5 970.79L1111 970.75L1112.5 970.7L1114 970.66L1115.5 970.62L1117 970.58L1118.5 970.54L1120 970.49L1121.5 970.45L1123 970.41L1124.5 970.37L1126 970.33L1127.5 970.29L1129 970.25L1130.5 970.21L1132 970.17L1133.5 970.13L1135 970.1L1136.5 970.06L1138 970.02L1139.5 969.98L1141 969.94L1142.5 969.91L1144 969.87L1145.5 969.83L1147 969.8L1148.5 969.76L1150 969.72L1151.5 969.69L1153 969.65L1154.5 969.62L1156 969.58L1157.5 969.55L1159 969.51L1160.5 969.48L1162 969.44L1163.5 969.41L1165 969.38L1166.5 969.34L1168 969.31L1169.5 969.28L1171 969.24L1172.5 969.21L1174 969.18L1175.5 969.15L1177 969.11L1178.5 969.08L1180 969.05L1181.5 969.02L1183 968.99L1184.5 968.96L1186 968.93L1187.5 968.89L1189 968.86L1190.5 968.83L1192 968.8L1193.5 968.77L1195 968.75L1196.5 968.72L1198 968.69L1199.5 968.66L1201 968.63L1202.5 968.6L1204 968.57L1205.5 968.54L1207 968.52L1208.5 968.49L1210 968.46L1211.5 968.43L1213 968.41L1214.5 968.38L1216 968.35L1217.5 968.33L1219 968.3L1220.5 968.27L1222 968.25L1223.5 968.22L1225 968.19L1226.5 968.17L1228 968.14L1229.5 968.12L1231 968.09L1232.5 968.07L1234 968.04L1235.5 968.02L1237 967.99L1238.5 967.97L1240 967.95L1241.5 967.92L1243 967.9L1244.5 967.87L1246 967.85L1247.5 967.83L1249 967.8L1250.5 967.78L1252 967.76L1253.5 967.74L1255 967.71L1256.5 967.69L1258 967.67L1259.5 967.65L1261 967.62L1262.5 967.6L1264 967.58L1265.5 967.56L1267 967.54L1268.5 967.52L1270 967.5L1271.5 967.47L1273 967.45L1274.5 967.43L1276 967.41L1277.5 967.39L1279 967.37L1280.5 967.35L1282 967.33L1283.5 967.31L1285 967.29L1286.5 967.27L1288 967.25L1289.5 967.23L1291 967.21L1292.5 967.2L1294 967.18L1295.5 967.16L1297 967.14L1298.5 967.12L1300 967.1L1301.5 967.08L1303 967.07L1304.5 967.05L1306 967.03L1307.5 967.01L1309 966.99L1310.5 966.98L1312 966.96L1313.5 966.94L1315 966.92L1316.5 966.91L1318 966.89L1319.5 966.87L1321 966.86L1322.5 966.84L1324 966.82L1325.5 966.81L1327 966.79L1328.5 966.77L1330 966.76L1331.5 966.74L1333 966.73L1334.5 966.71L1336 966.69L1337.5 966.68L1339 966.66L1340.5 966.65L1342 966.63L1343.5 966.62L1345 966.6L1346.5 966.59L1348 966.57L1349.5 966.56L1351 966.54L1352.5 966.53L1354 966.51L1355.5 966.5L1357 966.49L1358.5 966.47L1360 966.46L1361.5 966.44L1363 966.43L1364.5 966.42L1366 966.4L1367.5 966.39L1369 966.37L1370.5 966.36L1372 966.35L1373.5 966.33L1375 966.32L1376.5 966.31L1378 966.3L1379.5 966.28L1381 966.27L1382.5 966.26L1384 966.24L1385.5 966.23L1387 966.22L1388.5 966.21L1390 966.19L1391.5 966.18L1393 966.17L1394.5 966.16L1396 966.15L1397.5 966.13L1399 966.12L1400.5 966.11L1402 966.1L1403.5 966.09L1405 966.08L1406.5 966.06L1408 966.05L1409.5 966.04L1411 966.03L1412.5 966.02L1414 966.01L1415.5 966L1417 965.99L1418.5 965.98L1420 965.96L1421.5 965.95L1423 965.94L1424.5 965.93L1426 965.92L1427.5 965.91L1429 965.9L1430.5 965.89L1432 965.88L1433.5 965.87L1435 965.86L1436.5 965.85L1438 965.84L1439.5 965.83L1441 965.82L1442.5 965.81L1444 965.8L1445.5 965.79L1447 965.78L1448.5 965.77L1450 965.76L1451.5 965.75L1453 965.74L1454.5 965.74L1456 965.73L1457.5 965.72L1459 965.71L1460.5 965.7L1462 965.69L1463.5 965.68L1465 965.67L1466.5 965.66L1468 965.66L1469.5 965.65L1471 965.64L1472.5 965.63L1474 965.62L1475.5 965.61L1477 965.6L1478.5 965.6L1480 965.59L1481.5 965.58L1483 965.57L1484.5 965.56L1486 965.56L1487.5 965.55L1489 965.54L1490.5 965.53L1492 965.52L1493.5 965.52L1495 965.51L1496.5 965.5L1498 965.49L1499.5 965.49L1501 965.48L1502.5 965.47L1504 965.46L1505.5 965.46L1507 965.45L1508.5 965.44L1510 965.43L1511.5 965.43L1513 965.42L1514.5 965.41L1516 965.41L1517.5 965.4L1519 965.39L1520.5 965.39L1522 965.38L1523.5 965.37L1525 965.36L1526.5 965.36L1528 965.35L1529.5 965.34L1531 965.34L1532.5 965.33L1534 965.33L1534.5 965.32"/>
</g>
<g fill="#000">
<rect x="164" y="694" width="4" height="451"/>
<rect x="1533" y="694" width="3" height="452"/>
<rect x="164" y="694" width="1372" height="3"/>
<rect x="166" y="1143" width="1370" height="3"/>
</g>
<g class="t" font-size="38">
<g text-anchor="middle">
<text x="164.5" y="1195.5">0</text>
<text x="392.58" y="1195.5">5</text>
<text x="620.67" y="1195.5">10</text>
<text x="848.75" y="1195.5">15</text>
<text x="1076.83" y="1195.5">20</text>
<text x="1304.92" y="1195.5">25</text>
<text x="1533" y="1195.5">30</text>
</g>
<g text-anchor="end">
<text x="151.6" y="710.3">1.5</text>
<text x="151.6" y="799.9">1</text>
<text x="151.6" y="889.9">0.5</text>
<text x="151.6" y="979.8">0</text>
<text x="151.6" y="1069.8">-0.5</text>
<text x="151.6" y="1159.9">-1</text>
</g>
<text x="167.2" y="693.6" font-size="46.5">×</text>
<text x="194.8" y="687.2">10</text>
<text x="238.8" y="668.4" font-size="32.2">-3</text>
</g>
<text class="a" x="848.9" y="1248" font-size="43.6" text-anchor="middle" textLength="127.4" lengthAdjust="spacingAndGlyphs">Time/h</text>
<g class="a" transform="translate(50.6 969) rotate(-90)">
<text transform="scale(1.17 1)" x="-1.2" y="0" font-size="47.2" style="font-family:'Liberation Serif', 'DejaVu Serif', serif">Δ</text>
<text x="33.0" y="-0.9" font-size="44.4">X</text>
<text x="63.8" y="18.3" font-size="35">Nt</text>
</g>
<rect x="1261.5" y="1016.6" width="239" height="102" fill="#fff" stroke="#222" stroke-width="3"/>
<rect x="1273" y="1040.1" width="127" height="10" fill="#0000ff"/>
<rect x="1273" y="1085.9" width="34.8" height="9.6" fill="#000"/>
<rect x="1315" y="1085.9" width="18" height="9.6" fill="#000"/>
<rect x="1340" y="1085.9" width="34.8" height="9.6" fill="#000"/>
<rect x="1382" y="1085.9" width="18" height="9.6" fill="#000"/>
<text class="l" x="1407.2" y="1058.1" font-size="36.2" textLength="81.6" lengthAdjust="spacingAndGlyphs">GMC</text>
<text class="l" x="1407.0" y="1104.1" font-size="36.2" textLength="58.3" lengthAdjust="spacingAndGlyphs">PID</text>
</g>
</svg>
</body>
</html>
